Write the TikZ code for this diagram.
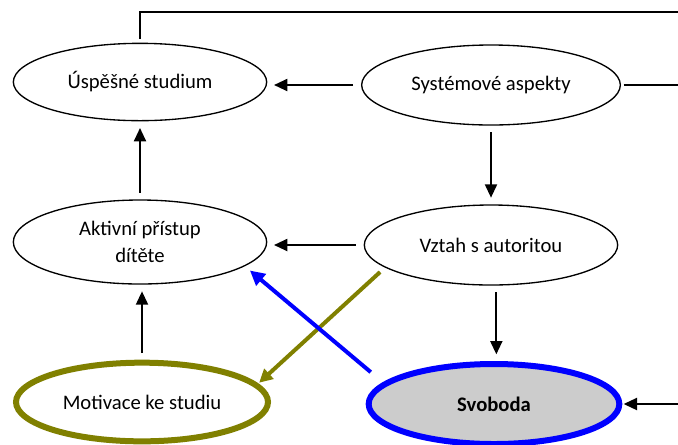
\documentclass[tikz,border=0pt]{standalone}
\usepackage{fontspec}
\setmainfont{Carlito}
\usepackage{xcolor}
\usepackage{tikz}
\usetikzlibrary{shapes.geometric, arrows.meta}
\definecolor{OliveLine}{RGB}{128,128,0}
\definecolor{PureBlue}{RGB}{0,0,255}
\definecolor{FreeGray}{RGB}{204,204,204}
\tikzset{
  bubble/.style={ellipse, draw=black, line width=1pt, inner sep=0pt, align=center,
    minimum width=190pt, minimum height=58pt, font=\fontsize{15.5}{20.5}\selectfont},
  motbubble/.style={bubble, draw=OliveLine, line width=4.5pt, minimum width=189pt, minimum height=59pt},
  freebubble/.style={bubble, draw=PureBlue, line width=4.5pt, fill=FreeGray,
    minimum width=188pt, minimum height=60pt, font=\fontsize{15.5}{20.5}\selectfont\bfseries},
  arr/.style={-{Triangle[length=10pt, width=9pt]}, line width=1.5pt, black},
  lnk/.style={line width=1.5pt, black},
  olivearr/.style={-{Triangle[length=10pt, width=10pt]}, line width=3pt, OliveLine},
  bluearr/.style={-{Triangle[length=11pt, width=11pt]}, line width=3pt, PureBlue},
}

\begin{document}
\begin{tikzpicture}[x=0.75pt, y=-0.75pt]
  \useasboundingbox (0,0) rectangle (678,444);
  % ellipses
  \node[bubble] (usp) at (140,82) {Úspěšné studium};
  \node[bubble, minimum width=194pt, minimum height=60pt] (sys) at (491,85) {Systémové aspekty};
  \node[bubble, minimum height=63pt] (akt) at (140,242) {Aktivní přístup\\dítěte};
  \node[bubble, minimum height=60pt] (vzt) at (491,245) {Vztah s autoritou};
  \node[motbubble] (mot) at (142,402) {Motivace ke studiu};
  \node[freebubble] (svo) at (494,404) {Svoboda};
  % free ends at the right margin
  \coordinate (topR) at (678,12);
  \coordinate (sysR) at (678,85);
  \coordinate (svoR) at (678,404);
  % connectors
  \draw[lnk] ([yshift=3pt]usp.north) |- (topR);
  \draw[lnk, shorten <=2pt] (sys.east) -- (sysR);
  \draw[arr, shorten <=6pt, shorten >=5pt] (sys.west) -- (sys.west -| usp.east);
  \draw[arr, shorten <=5pt, shorten >=5pt] (sys.south) -- (vzt.north);
  \draw[arr, shorten <=5pt, shorten >=5pt] (akt.north) -- (usp.south);
  \draw[arr, shorten <=6pt, shorten >=5pt] (vzt.west) -- (vzt.west -| akt.east);
  \draw[arr, shorten <=5pt, shorten >=5pt] ([xshift=4pt]vzt.south) -- ([xshift=4pt]vzt.south |- svo.north);
  \draw[arr, shorten <=5pt, shorten >=5pt] (mot.north) -- (mot.north |- akt.south);
  \draw[olivearr, shorten <=5pt, shorten >=1pt] (vzt.192) -- (mot.9);
  \draw[bluearr, shorten <=12pt, shorten >=5pt] (svo.169) -- (akt.347);
  \draw[arr, shorten >=1pt] (svoR) -- (svo.east);
\end{tikzpicture}
\end{document}
